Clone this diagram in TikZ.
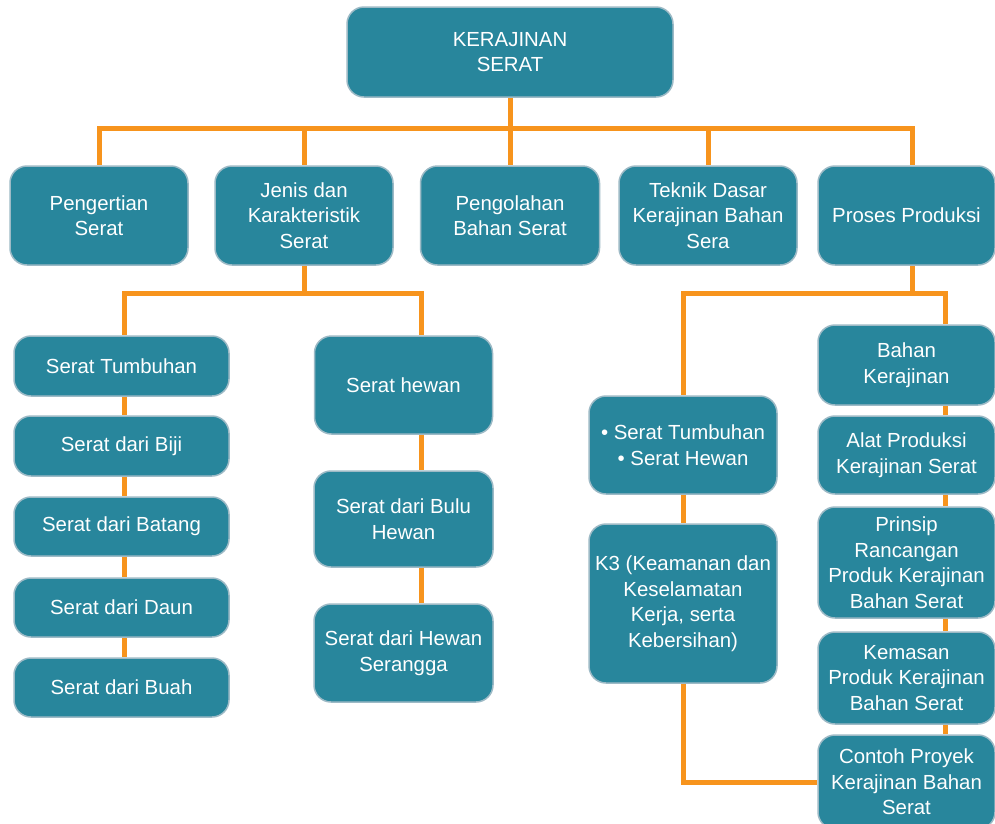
\documentclass[tikz,border=0pt]{standalone}
\usepackage{fontspec}
\setmainfont{Liberation Sans}
\usetikzlibrary{backgrounds}
\definecolor{boxteal}{HTML}{28869C}
\definecolor{boxrim}{HTML}{9DBAC6}
\definecolor{linkorange}{HTML}{F7941D}

\begin{document}
\begin{tikzpicture}[
  x=1pt, y=-1pt,
  box/.style={draw=boxrim, line width=1.5pt, fill=boxteal, rounded corners=17pt,
    text=white, align=center, inner sep=0pt,
    font=\fontsize{20.4}{25.5}\selectfont},
  link/.style={draw=linkorange, line width=5pt}
]

% Page: 995 x 823
\useasboundingbox (0,0) rectangle (995,823);

% --- Top ---
\node[box, minimum width=326, minimum height=90] (kerajinan) at (510,52) {KERAJINAN\\SERAT};

% --- Second row ---
\node[box, minimum width=178, minimum height=99] (pengertian) at (99,215.5) {Pengertian\\Serat};
\node[box, minimum width=178, minimum height=99] (jenis) at (304,215.5) {Jenis dan\\Karakteristik\\Serat};
\node[box, minimum width=179, minimum height=99] (pengolahan) at (510,215.5) {Pengolahan\\Bahan Serat};
\node[box, minimum width=178, minimum height=99] (teknik) at (708,215.5) {Teknik Dasar\\Kerajinan Bahan\\Sera};
\node[box, minimum width=177, minimum height=99] (proses) at (906.5,215.5) {Proses Produksi};

% --- Serat tumbuhan column ---
\node[box, minimum width=215, minimum height=60] (tumbuhan) at (121.5,366) {Serat Tumbuhan};
\node[box, minimum width=215, minimum height=60] (biji) at (121.5,446) {Serat dari Biji};
\node[box, minimum width=215, minimum height=59] (batang) at (121.5,526.5) {Serat dari Batang};
\node[box, minimum width=215, minimum height=59] (daun) at (121.5,607.5) {Serat dari Daun};
\node[box, minimum width=215, minimum height=59] (buah) at (121.5,687.5) {Serat dari Buah};

% --- Serat hewan column ---
\node[box, minimum width=178, minimum height=98] (hewan) at (403.5,385) {Serat hewan};
\node[box, minimum width=179, minimum height=96] (bulu) at (403.5,519) {Serat dari Bulu\\Hewan};
\node[box, minimum width=179, minimum height=98] (serangga) at (403.5,653) {Serat dari Hewan\\Serangga};

% --- Proses produksi, left ---
\node[box, minimum width=188, minimum height=98] (ragam) at (683,445) {\textbullet{} Serat Tumbuhan\\\textbullet{} Serat Hewan};
\node[box, minimum width=188, minimum height=159] (k3) at (683,603.5) {K3 (Keamanan dan\\Keselamatan\\Kerja, serta\\Kebersihan)};

% --- Proses produksi, right ---
\node[box, minimum width=177, minimum height=80] (bahan) at (906.5,365) {Bahan\\Kerajinan};
\node[box, minimum width=177, minimum height=78] (alat) at (906.5,455) {Alat Produksi\\Kerajinan Serat};
\node[box, minimum width=177, minimum height=111] (prinsip) at (906.5,562.5) {Prinsip\\Rancangan\\Produk Kerajinan\\Bahan Serat};
\node[box, minimum width=177, minimum height=92] (kemasan) at (906.5,678) {Kemasan\\Produk Kerajinan\\Bahan Serat};
\node[box, minimum width=177, minimum height=94] (contoh) at (906.5,782) {Contoh Proyek\\Kerajinan Bahan\\Serat};

% --- Connectors (behind the boxes) ---
\begin{pgfonlayer}{background}
  \fill[white] (0,0) rectangle (995,823);

  \coordinate (busTop) at (510,128);
  \draw[link] (kerajinan.south) -- (busTop);
  \draw[link] (busTop) -| (pengertian.north);
  \draw[link] (busTop) -| (jenis.north);
  \draw[link] (busTop) -- (pengolahan.north);
  \draw[link] (busTop) -| (teknik.north);
  \draw[link] (busTop) -| ([xshift=5.5pt]proses.north);

  \coordinate (busJenis) at (304,293);
  \draw[link] (jenis.south) -- (busJenis);
  \draw[link] (busJenis) -| ([xshift=2.5pt]tumbuhan.north);
  \draw[link] (busJenis) -| ([xshift=17.5pt]hewan.north);
  \foreach \a/\b in {tumbuhan/biji, biji/batang, batang/daun, daun/buah}
    \draw[link] ([xshift=2.5pt]\a.south) -- ([xshift=2.5pt]\b.north);
  \foreach \a/\b in {hewan/bulu, bulu/serangga}
    \draw[link] ([xshift=17.5pt]\a.south) -- ([xshift=17.5pt]\b.north);

  \coordinate (busProses) at (912,293);
  \draw[link] ([xshift=5.5pt]proses.south) -- (busProses);
  \draw[link] (busProses) -| (ragam.north);
  \draw[link] (busProses) -| ([xshift=38.5pt]bahan.north);
  \draw[link] (ragam.south) -- (k3.north);
  \draw[link] (k3.south) |- (contoh.west);
  \foreach \a/\b in {bahan/alat, alat/prinsip, prinsip/kemasan, kemasan/contoh}
    \draw[link] ([xshift=38.5pt]\a.south) -- ([xshift=38.5pt]\b.north);
\end{pgfonlayer}

\end{tikzpicture}
\end{document}
